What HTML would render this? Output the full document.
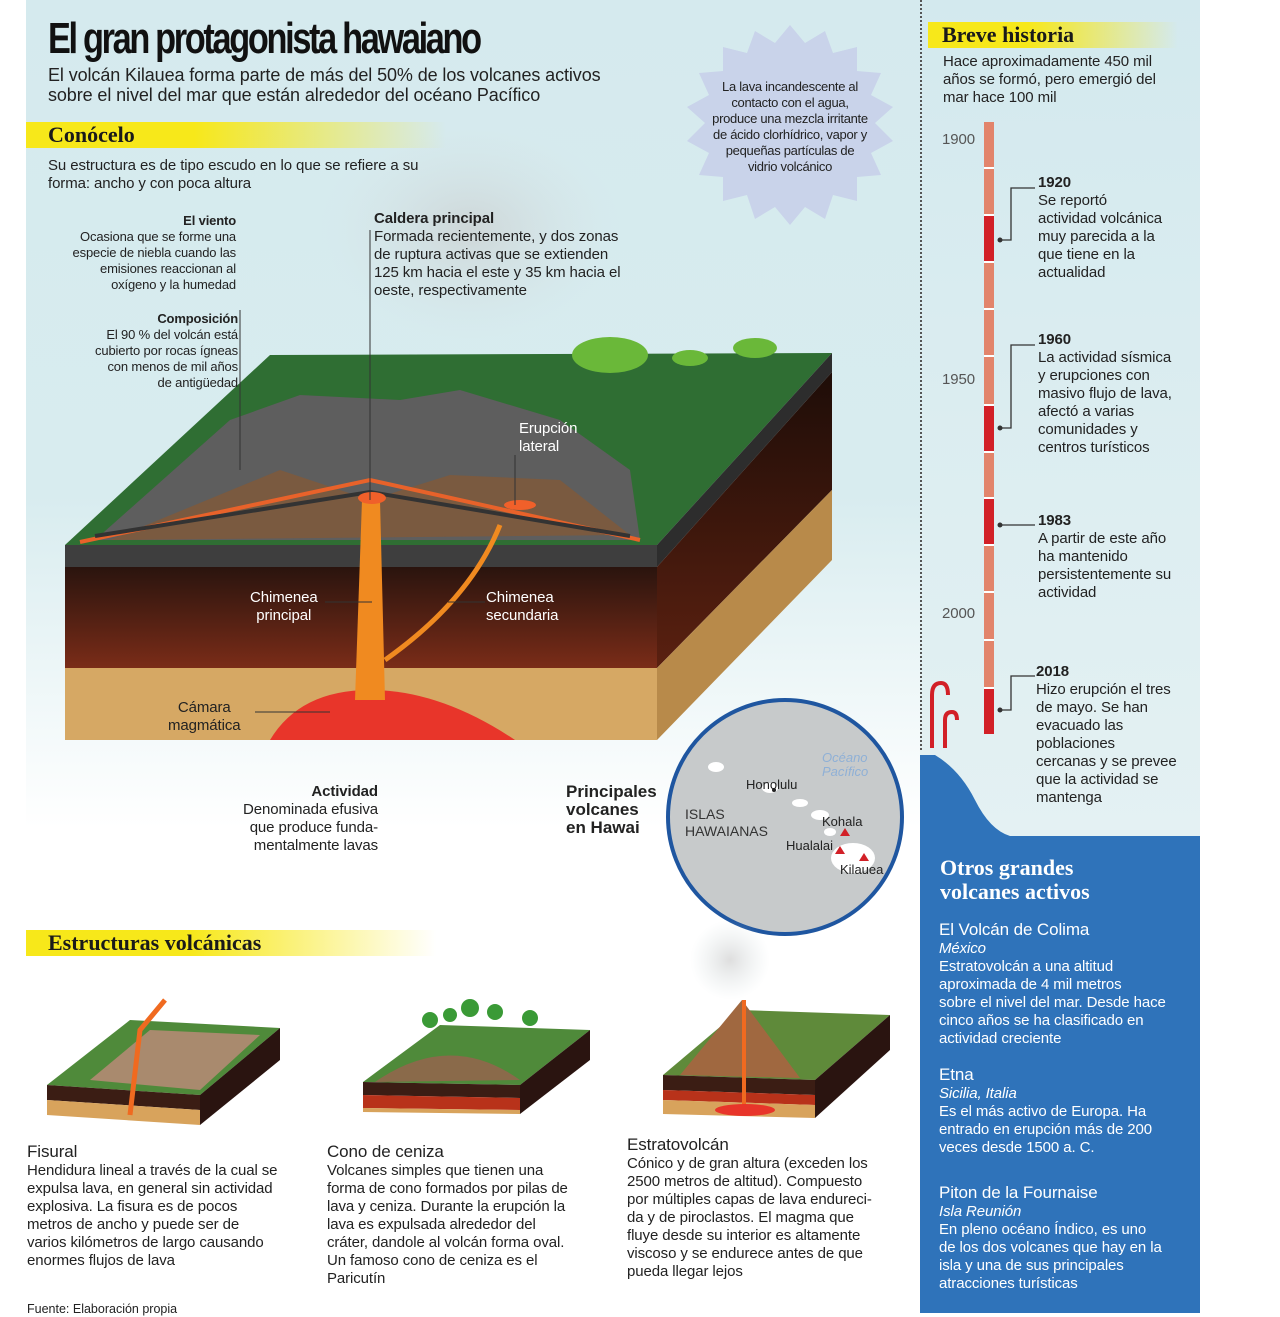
<!DOCTYPE html>
<html><head><meta charset="utf-8">
<style>
*{margin:0;padding:0;box-sizing:border-box}
body{width:1280px;height:1317px;position:relative;background:#fff;font-family:"Liberation Sans",sans-serif;color:#222;overflow:hidden}
.a{position:absolute}
.t{font-size:15px;line-height:18px;letter-spacing:-0.1px}
.s{font-size:13px;line-height:16px;letter-spacing:-0.15px}
.b{font-weight:bold}
.hl{position:absolute;height:26px;background:linear-gradient(90deg,#f7e81a 0%,#f7e81a 40%,rgba(247,232,26,0) 100%)}
.hl span{font-family:"Liberation Serif",serif;font-weight:bold;font-size:22px;line-height:26px;padding-left:22px;color:#1a1a1a}
.w{color:#fff}
.h{font-size:17px}
</style></head><body>
<div class="a" style="left:26px;top:0;width:894px;height:900px;background:linear-gradient(180deg,#d5eaee 0%,#d8ecef 55%,#fff 92%)"></div>
<div class="a" style="left:920px;top:0;width:280px;height:840px;background:linear-gradient(180deg,#d3e9ee 0%,#e4f1f3 100%)"></div>
<div class="a" style="left:920px;top:0;height:750px;border-left:2px dotted #555"></div>

<svg class="a" style="left:0;top:0" width="1280" height="1317">
<defs>
<linearGradient id="fr" x1="0" y1="0" x2="0" y2="1"><stop offset="0" stop-color="#2a140e"/><stop offset="1" stop-color="#7a2c18"/></linearGradient>
<linearGradient id="sd" x1="0" y1="0" x2="0" y2="1"><stop offset="0" stop-color="#1e0d08"/><stop offset="1" stop-color="#5a2010"/></linearGradient>
<radialGradient id="smk" cx=".5" cy=".5" r=".5"><stop offset="0" stop-color="#c8c8c8" stop-opacity=".6"/><stop offset="1" stop-color="#d5e0e2" stop-opacity="0"/></radialGradient>
</defs>
<polygon fill="#c9d3ea" transform="translate(685,25)" points="105,0 120,18 140,6 148,28 172,22 172,46 196,48 186,70 208,82 190,98 208,116 186,128 196,150 172,152 172,176 148,170 140,194 120,182 105,200 90,182 70,194 62,170 38,176 38,152 14,150 24,128 2,116 20,98 2,82 24,70 14,48 38,46 38,22 62,28 70,6 90,18"/>
<ellipse cx="470" cy="230" rx="150" ry="110" fill="url(#smk)"/>
<polygon fill="#2f6e33" points="65,545 270,355 832,353 657,545"/>
<polygon fill="#5e5e5e" points="95,540 230,420 300,395 400,400 460,390 560,420 630,470 640,540"/>
<polygon fill="#7a5a40" points="110,540 280,470 370,500 450,475 560,480 630,535"/>
<polygon fill="#3e3e3e" points="65,545 657,545 657,567 65,567"/>
<polygon fill="url(#fr)" points="65,567 657,567 657,668 65,668"/>
<polygon fill="#d6a864" points="65,668 657,668 657,740 65,740"/>
<polygon fill="#2d2d2d" points="657,545 832,353 832,372 657,567"/>
<polygon fill="url(#sd)" points="657,567 832,372 832,490 657,668"/>
<polygon fill="#b88a4a" points="657,668 832,490 832,560 657,740"/>
<path d="M80,542 L370,480 L640,540" stroke="#e8622a" stroke-width="4" fill="none"/>
<path d="M95,536 L370,492 L630,536" stroke="#333" stroke-width="4" fill="none"/>
<path d="M270,740 Q300,690 370,690 Q440,690 515,740 Z" fill="#e8352a"/>
<path d="M362,500 L380,500 L385,700 L355,700 Z" fill="#f08a20"/>
<path d="M385,660 Q470,600 500,525" stroke="#f08a20" stroke-width="5" fill="none"/>
<ellipse cx="372" cy="498" rx="14" ry="6" fill="#f0602a"/>
<ellipse cx="520" cy="505" rx="16" ry="5" fill="#f0602a"/>
<ellipse cx="610" cy="355" rx="38" ry="18" fill="#6ab839"/>
<ellipse cx="755" cy="348" rx="22" ry="10" fill="#6ab839"/>
<ellipse cx="690" cy="358" rx="18" ry="8" fill="#6ab839"/>
<g stroke="#333" stroke-width="1" fill="none">
<path d="M370,230 V500"/><path d="M240,310 V470"/>
<path d="M325,602 H372"/><path d="M448,602 H485"/><path d="M255,712 H330"/><path d="M515,455 V505"/>
</g>
<g>
<rect x="984" y="122" width="10" height="612" fill="#e2846b"/>
<rect x="984" y="215" width="10" height="47" fill="#d22027"/>
<rect x="984" y="405" width="10" height="47" fill="#d22027"/>
<rect x="984" y="498" width="10" height="47" fill="#d22027"/>
<rect x="984" y="688" width="10" height="46" fill="#d22027"/>
<g stroke="#fff" stroke-width="2"><path d="M984,168H994M984,215H994M984,262H994M984,309H994M984,356H994M984,405H994M984,452H994M984,498H994M984,545H994M984,592H994M984,640H994M984,688H994"/></g>
<g stroke="#333" stroke-width="1.3" fill="none"><path d="M1000,240H1011V188H1035"/><path d="M1000,428H1011V345H1035"/><path d="M1000,525H1035"/><path d="M1000,710H1011V676H1035"/></g>
<g fill="#333"><circle cx="1000" cy="240" r="2.5"/><circle cx="1000" cy="428" r="2.5"/><circle cx="1000" cy="525" r="2.5"/><circle cx="1000" cy="710" r="2.5"/></g>
<path d="M932,748 V695 Q932,683 941,683 Q948,683 948,695" stroke="#d22027" stroke-width="4" fill="none"/>
<path d="M945,748 V720 Q945,712 952,712 Q957,712 957,720" stroke="#d22027" stroke-width="4" fill="none"/>
</g>
<path d="M920,755 L935,755 Q960,770 975,800 Q990,830 1010,836 L1200,836 L1200,1313 L920,1313 Z" fill="#2f73ba"/>
<circle cx="785" cy="817" r="117" fill="#c7cacb" stroke="#1f56a0" stroke-width="4"/>
<g fill="#fff"><ellipse cx="716" cy="767" rx="8" ry="5"/><ellipse cx="770" cy="788" rx="8" ry="5"/><ellipse cx="800" cy="803" rx="8" ry="4"/><ellipse cx="820" cy="815" rx="9" ry="5"/><ellipse cx="853" cy="858" rx="22" ry="15"/><ellipse cx="830" cy="832" rx="6" ry="4"/></g>
<g fill="#d22027"><polygon points="845,828 850,836 840,836"/><polygon points="840,846 845,854 835,854"/><polygon points="864,853 869,861 859,861"/></g>
<circle cx="774" cy="790" r="2" fill="#222"/>
<g>
<polygon fill="#4f8a3a" points="47,1085 130,1020 280,1028 200,1095"/>
<polygon fill="#a98a6e" points="90,1080 150,1030 260,1035 200,1090"/>
<polygon fill="#3b1d14" points="47,1085 200,1095 200,1110 47,1100"/>
<polygon fill="#d8a35c" points="47,1100 200,1110 200,1125 47,1115"/>
<polygon fill="#2a1410" points="200,1095 280,1028 280,1060 200,1125"/>
<path d="M130,1115 L140,1030 L165,1000" stroke="#f06a20" stroke-width="5" fill="none"/>
<polygon fill="#4f8a3a" points="363,1082 440,1025 590,1030 520,1085"/>
<path d="M375,1082 Q450,1030 520,1080" fill="#8a6a4a"/>
<polygon fill="#3b1d14" points="363,1082 520,1085 520,1098 363,1095"/>
<polygon fill="#b8321a" points="363,1095 520,1098 520,1110 363,1108"/>
<polygon fill="#d8a35c" points="363,1108 520,1110 520,1114 363,1112"/>
<polygon fill="#2a1410" points="520,1085 590,1030 590,1060 520,1114"/>
<g fill="#3a9a36"><circle cx="430" cy="1020" r="8"/><circle cx="470" cy="1008" r="9"/><circle cx="495" cy="1012" r="8"/><circle cx="530" cy="1018" r="8"/><circle cx="450" cy="1015" r="7"/></g>
<ellipse cx="730" cy="960" rx="40" ry="40" fill="url(#smk)"/>
<polygon fill="#5f8a3a" points="663,1075 740,1010 890,1015 815,1080"/>
<polygon fill="#a06840" points="680,1075 742,1000 800,1078"/>
<polygon fill="#3b1d14" points="663,1075 815,1080 815,1095 663,1090"/>
<polygon fill="#b8321a" points="663,1090 815,1095 815,1105 663,1100"/>
<polygon fill="#d8a35c" points="663,1100 815,1105 815,1118 663,1114"/>
<polygon fill="#2a1410" points="815,1080 890,1015 890,1050 815,1118"/>
<path d="M744,1000 L744,1105" stroke="#f06a20" stroke-width="4"/>
<ellipse cx="745" cy="1110" rx="30" ry="6" fill="#e8352a"/>
</g>
</svg>

<div class="a" style="left:48px;top:14px;font-size:44px;font-weight:bold;letter-spacing:-3px;transform:scaleX(.78);transform-origin:left;white-space:nowrap;color:#111">El gran protagonista hawaiano</div>
<div class="a" style="left:48px;top:65px;font-size:18px;line-height:20px;letter-spacing:-0.1px">El volcán Kilauea forma parte de más del 50% de los volcanes activos<br>sobre el nivel del mar que están alrededor del océano Pacífico</div>
<div class="hl" style="left:26px;top:122px;width:420px"><span>Conócelo</span></div>
<div class="a t" style="left:48px;top:157px">Su estructura es de tipo escudo en lo que se refiere a su<br>forma: ancho y con poca altura</div>
<div class="a" style="left:712px;top:79px;width:156px;text-align:center;font-size:13px;line-height:16px;letter-spacing:-0.3px">La lava incandescente al contacto con el agua, produce una mezcla irritante de ácido clorhídrico, vapor y pequeñas partículas de vidrio volcánico</div>

<div class="a s" style="left:40px;top:213px;width:196px;text-align:right"><b>El viento</b><br>Ocasiona que se forme una<br>especie de niebla cuando las<br>emisiones reaccionan al<br>oxígeno y la humedad</div>
<div class="a s" style="left:40px;top:311px;width:198px;text-align:right"><b>Composición</b><br>El 90 % del volcán está<br>cubierto por rocas ígneas<br>con menos de mil años<br>de antigüedad</div>
<div class="a t" style="left:374px;top:210px;width:280px"><b>Caldera principal</b><br>Formada recientemente, y dos zonas<br>de ruptura activas que se extienden<br>125 km hacia el este y 35 km hacia el<br>oeste, respectivamente</div>
<div class="a t w" style="left:519px;top:420px">Erupción<br>lateral</div>
<div class="a t w" style="left:250px;top:589px;text-align:center">Chimenea<br>principal</div>
<div class="a t w" style="left:486px;top:589px">Chimenea<br>secundaria</div>
<div class="a t" style="left:168px;top:699px;text-align:center">Cámara<br>magmática</div>
<div class="a t" style="left:196px;top:783px;width:182px;text-align:right"><b>Actividad</b><br>Denominada efusiva<br>que produce funda-<br>mentalmente lavas</div>
<div class="a b" style="left:566px;top:783px;font-size:17px;line-height:18px">Principales<br>volcanes<br>en Hawai</div>
<div class="a" style="left:685px;top:806px;font-size:14px;line-height:17px;color:#333">ISLAS<br>HAWAIANAS</div>
<div class="a" style="left:746px;top:777px;font-size:13px">Honolulu</div>
<div class="a" style="left:822px;top:751px;font-size:13px;line-height:14px;color:#8fb0d6;font-style:italic">Océano<br>Pacífico</div>
<div class="a" style="left:822px;top:814px;font-size:13px">Kohala</div>
<div class="a" style="left:786px;top:838px;font-size:13px">Hualalai</div>
<div class="a" style="left:840px;top:862px;font-size:13px">Kilauea</div>

<div class="hl" style="left:26px;top:930px;width:410px"><span>Estructuras volcánicas</span></div>
<div class="a t" style="left:27px;top:1143px;width:290px"><span class="h">Fisural</span><br>Hendidura lineal a través de la cual se<br>expulsa lava, en general sin actividad<br>explosiva. La fisura es de pocos<br>metros de ancho y puede ser de<br>varios kilómetros de largo causando<br>enormes flujos de lava</div>
<div class="a t" style="left:327px;top:1143px;width:290px"><span class="h">Cono de ceniza</span><br>Volcanes simples que tienen una<br>forma de cono formados por pilas de<br>lava y ceniza. Durante la erupción la<br>lava es expulsada alrededor del<br>cráter, dandole al volcán forma oval.<br>Un famoso cono de ceniza es el<br>Paricutín</div>
<div class="a t" style="left:627px;top:1136px;width:290px"><span class="h">Estratovolcán</span><br>Cónico y de gran altura (exceden los<br>2500 metros de altitud). Compuesto<br>por múltiples capas de lava endureci-<br>da y de piroclastos. El magma que<br>fluye desde su interior es altamente<br>viscoso y se endurece antes de que<br>pueda llegar lejos</div>
<div class="a" style="left:27px;top:1302px;font-size:12.5px">Fuente: Elaboración propia</div>

<div class="hl" style="left:928px;top:22px;width:250px"><span style="padding-left:14px">Breve historia</span></div>
<div class="a t" style="left:943px;top:53px;width:255px">Hace aproximadamente 450 mil<br>años se formó, pero emergió del<br>mar hace 100 mil</div>
<div class="a t" style="left:942px;top:131px;color:#555">1900</div>
<div class="a t" style="left:942px;top:371px;color:#555">1950</div>
<div class="a t" style="left:942px;top:605px;color:#555">2000</div>
<div class="a t" style="left:1038px;top:174px;width:165px"><b>1920</b><br>Se reportó<br>actividad volcánica<br>muy parecida a la<br>que tiene en la<br>actualidad</div>
<div class="a t" style="left:1038px;top:331px;width:165px"><b>1960</b><br>La actividad sísmica<br>y erupciones con<br>masivo flujo de lava,<br>afectó a varias<br>comunidades y<br>centros turísticos</div>
<div class="a t" style="left:1038px;top:512px;width:165px"><b>1983</b><br>A partir de este año<br>ha mantenido<br>persistentemente su<br>actividad</div>
<div class="a t" style="left:1036px;top:663px;width:165px"><b>2018</b><br>Hizo erupción el tres<br>de mayo. Se han<br>evacuado las<br>poblaciones<br>cercanas y se prevee<br>que la actividad se<br>mantenga</div>

<div class="a w" style="left:940px;top:856px;font-family:'Liberation Serif',serif;font-weight:bold;font-size:22px;line-height:24px">Otros grandes<br>volcanes activos</div>
<div class="a t w" style="left:939px;top:921px;width:260px"><span class="h">El Volcán de Colima</span><br><i>México</i><br>Estratovolcán a una altitud<br>aproximada de 4 mil metros<br>sobre el nivel del mar. Desde hace<br>cinco años se ha clasificado en<br>actividad creciente</div>
<div class="a t w" style="left:939px;top:1066px;width:260px"><span class="h">Etna</span><br><i>Sicilia, Italia</i><br>Es el más activo de Europa. Ha<br>entrado en erupción más de 200<br>veces desde 1500 a. C.</div>
<div class="a t w" style="left:939px;top:1184px;width:260px"><span class="h">Piton de la Fournaise</span><br><i>Isla Reunión</i><br>En pleno océano Índico, es uno<br>de los dos volcanes que hay en la<br>isla y una de sus principales<br>atracciones turísticas</div>
</body></html>
